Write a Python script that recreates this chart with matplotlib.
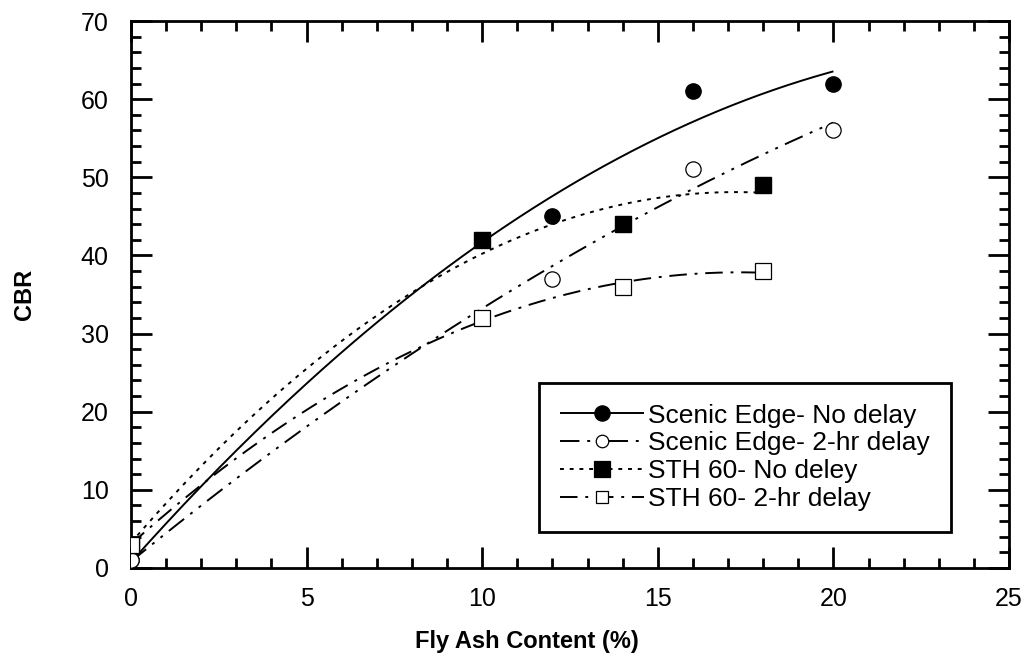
import numpy as np
import matplotlib
matplotlib.use('Agg')
import matplotlib.pyplot as plt
from matplotlib.ticker import MultipleLocator

plt.rcParams['font.family'] = ['Liberation Sans', 'DejaVu Sans']

# data
labels = ['Scenic Edge- No delay', 'Scenic Edge- 2-hr delay',
          'STH 60- No deley', 'STH 60- 2-hr delay']
se_x = [0, 12, 16, 20]
se_nd = [1, 45, 61, 62]
se_2h = [1, 37, 51, 56]
sth_x = [0, 10, 14, 18]
sth_nd = [3, 42, 44, 49]
sth_2h = [3, 32, 36, 38]

series = [
    (se_x, se_nd, 'o', 'black', (0, ())),
    (se_x, se_2h, 'o', 'white', (0, (10, 4, 1.5, 4, 1.5, 4))),
    (sth_x, sth_nd, 's', 'black', (0, (2, 3))),
    (sth_x, sth_2h, 's', 'white', (0, (9, 4, 1.5, 4))),
]

DPI = 100
fig = plt.figure(figsize=(10.29, 6.69), dpi=DPI, facecolor='white')
ax = fig.add_axes([0.1273, 0.151, 0.8533, 0.8176])

handles = []
for (xs, ys, mk, fc, ls), lab in zip(series, labels):
    # quadratic trend line through each series
    coef = np.polyfit(xs, ys, 2)
    xx = np.linspace(min(xs), max(xs), 200)
    ax.plot(xx, np.polyval(coef, xx), color='black', lw=1.4, linestyle=ls)
    ax.plot(xs, ys, linestyle='none', marker=mk, ms=11,
            mfc=fc, mec='black', mew=0.9 if fc == 'white' else 1, zorder=3)
    h, = ax.plot([], [], color='black', lw=1.4, linestyle=ls, marker=mk,
                 ms=11 if fc == 'black' else 9, mfc=fc, mec='black', mew=0.9)
    handles.append(h)

ax.set_xlim(0, 25)
ax.set_ylim(0, 70)
ax.xaxis.set_major_locator(MultipleLocator(5))
ax.xaxis.set_minor_locator(MultipleLocator(1))
ax.yaxis.set_major_locator(MultipleLocator(10))
ax.yaxis.set_minor_locator(MultipleLocator(2))
ax.tick_params(which='both', direction='in', top=True, right=True, width=2,
               labelsize=18)
ax.tick_params(axis='x', pad=14)
ax.tick_params(axis='y', pad=16)
ax.tick_params(which='major', length=15)
ax.tick_params(which='minor', length=7)
for s in ax.spines.values():
    s.set_linewidth(2)

ax.set_xlabel('Fly Ash Content (%)', fontsize=17, fontweight='bold')
ax.set_ylabel('CBR', fontsize=17, fontweight='bold')
ax.xaxis.set_label_coords(0.451, -0.113, transform=ax.transAxes)
ax.yaxis.set_label_coords(-0.108, 0.5, transform=ax.transAxes)

leg = ax.legend(handles, labels, loc='lower right', bbox_to_anchor=(0.934, 0.066),
                borderaxespad=0, fontsize=19, frameon=True, fancybox=False,
                edgecolor='black', framealpha=1, handlelength=3.2,
                handletextpad=0.15, borderpad=0.8, labelspacing=0.14)
leg.get_frame().set_linewidth(2)

plt.savefig('out.png', dpi=DPI, facecolor='white')
plt.close()
